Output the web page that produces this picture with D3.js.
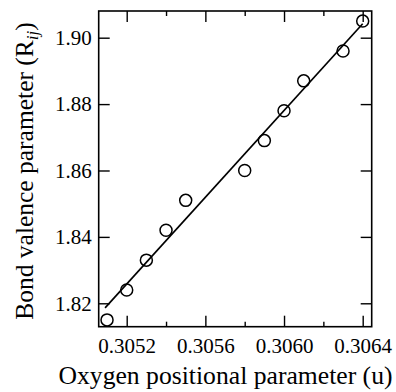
<!DOCTYPE html>
<html>
<head>
<meta charset="utf-8">
<script src="https://cdn.jsdelivr.net/npm/d3@7"></script>
</head>
<body style="margin:0;background:#fff">
<script>
// ---- data ----
const uValues = [0.3051, 0.3052, 0.3053, 0.3054, 0.3055, 0.3058, 0.3059, 0.3060, 0.3061, 0.3063, 0.3064];
const rValues = [1.815, 1.824, 1.833, 1.842, 1.851, 1.860, 1.869, 1.878, 1.887, 1.896, 1.905];
const fitU = [0.30509, 0.3064];
const fitR = [1.8186, 1.9042];
const xMajorTicks = [0.3052, 0.3056, 0.3060, 0.3064];
const xMinorTicks = [0.3054, 0.3058, 0.3062];
const yMajorTicks = [1.82, 1.84, 1.86, 1.88, 1.90];
const xTitle = "Oxygen positional parameter (u)";
const yTitleMain = "Bond valence parameter (R";
const yTitleSub = "ij";
const yTitleEnd = ")";

// ---- layout ----
const W = 396, H = 392;
const pLeft = 98.7, pRight = 371.7, pTop = 11, pBottom = 326.7;
const FONT = '"Liberation Serif"';

const svg = d3.select("body").append("svg").attr("width", W).attr("height", H)
  .style("display", "block").attr("font-family", FONT);

const x = d3.scaleLinear().domain([0.3050576, 0.3064458]).range([pLeft, pRight]);
const y = d3.scaleLinear().domain([1.81295, 1.90804]).range([pBottom, pTop]);

const fmtX = d3.format(".4f");
const fmtY = d3.format(".2f");

// bottom axis (major, labelled)
svg.append("g").attr("transform", `translate(0,${pBottom})`)
  .call(d3.axisBottom(x).tickValues(xMajorTicks).tickFormat(fmtX).tickSize(-11).tickSizeOuter(0).tickPadding(11.5));
// bottom minor
svg.append("g").attr("transform", `translate(0,${pBottom})`)
  .call(d3.axisBottom(x).tickValues(xMinorTicks).tickFormat("").tickSize(-5).tickSizeOuter(0));
// top axis
svg.append("g").attr("transform", `translate(0,${pTop})`)
  .call(d3.axisTop(x).tickValues(xMajorTicks).tickFormat("").tickSize(-11).tickSizeOuter(0));
svg.append("g").attr("transform", `translate(0,${pTop})`)
  .call(d3.axisTop(x).tickValues(xMinorTicks).tickFormat("").tickSize(-5).tickSizeOuter(0));
// left axis
svg.append("g").attr("transform", `translate(${pLeft},0)`)
  .call(d3.axisLeft(y).tickValues(yMajorTicks).tickFormat(fmtY).tickSize(-11).tickSizeOuter(0).tickPadding(7));
// right axis
svg.append("g").attr("transform", `translate(${pRight},0)`)
  .call(d3.axisRight(y).tickValues(yMajorTicks).tickFormat("").tickSize(-11).tickSizeOuter(0));

svg.selectAll("g").attr("font-family", FONT).attr("font-size", 21);
svg.selectAll(".domain").remove();
svg.selectAll(".tick line").attr("stroke", "#000").attr("stroke-width", 1.4);
svg.selectAll(".tick text").attr("font-family", FONT).attr("font-size", 21).attr("fill", "#000");

// frame
svg.append("rect").attr("x", pLeft).attr("y", pTop)
  .attr("width", pRight - pLeft).attr("height", pBottom - pTop)
  .attr("fill", "none").attr("stroke", "#000").attr("stroke-width", 1.6);

// fit line
const line = d3.line().x(d => x(d[0])).y(d => y(d[1]));
svg.append("path").datum(fitU.map((u, i) => [u, fitR[i]]))
  .attr("d", line).attr("fill", "none").attr("stroke", "#000").attr("stroke-width", 1.7);

// points
svg.append("g").selectAll("circle").data(uValues.map((u, i) => [u, rValues[i]]))
  .join("circle")
  .attr("cx", d => x(d[0])).attr("cy", d => y(d[1])).attr("r", 6)
  .attr("fill", "none").attr("stroke", "#000").attr("stroke-width", 1.5);

// x title
svg.append("text").attr("x", 225.5).attr("y", 384.3)
  .attr("font-family", FONT).attr("fill", "#000")
  .attr("text-anchor", "middle").attr("font-size", 25)
  .attr("textLength", 334).attr("lengthAdjust", "spacingAndGlyphs")
  .text(xTitle);

// y title
const yt = svg.append("text")
  .attr("transform", "translate(33,171) rotate(-90)")
  .attr("font-family", FONT).attr("fill", "#000")
  .attr("text-anchor", "middle").attr("font-size", 25.5);
yt.append("tspan").text(yTitleMain);
yt.append("tspan").attr("font-size", 17).attr("font-style", "italic").attr("dy", 5).text(yTitleSub);
yt.append("tspan").attr("dy", -5).text(yTitleEnd);
</script>
</body>
</html>
